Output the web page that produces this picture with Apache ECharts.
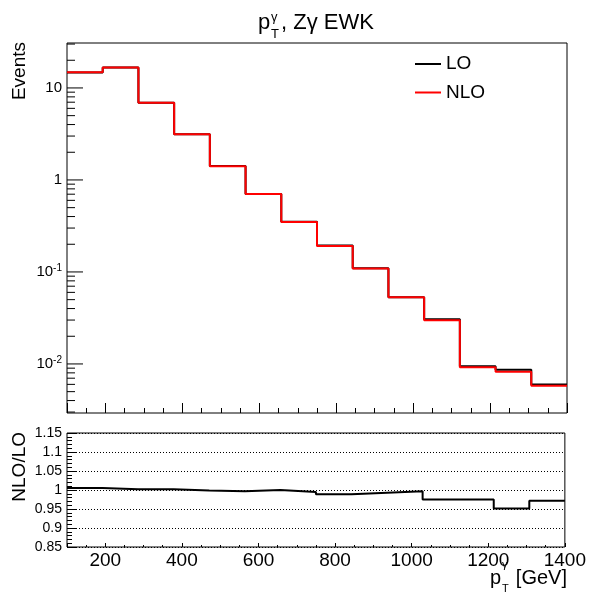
<!DOCTYPE html>
<html><head><meta charset="utf-8">
<script src="https://cdn.jsdelivr.net/npm/echarts@6/dist/echarts.min.js"></script>
<style>html,body{margin:0;padding:0;background:#fff}#c{width:589px;height:596px}</style>
</head><body><div id="c"></div>
<script>
// ---- data ----
const binEdges = [100, 192.86, 285.71, 378.57, 471.43, 564.29, 657.14, 750, 842.86, 935.71, 1028.57, 1121.43, 1214.29, 1307.14, 1400];
const nloValues = [14.8, 16.7, 6.92, 3.13, 1.41, 0.705, 0.350, 0.192, 0.109, 0.0530, 0.0298, 0.00920, 0.00824, 0.00580];
const loValues = [14.73, 16.67, 6.906, 3.133, 1.414, 0.705, 0.3518, 0.1941, 0.1098, 0.0532, 0.03056, 0.00944, 0.00866, 0.00597];
const ratioValues = [1.005, 1.002, 1.002, 0.999, 0.997, 1.000, 0.995, 0.989, 0.993, 0.997, 0.975, 0.975, 0.951, 0.972];
const logTickValues = [0.003,0.004,0.005,0.006,0.007,0.008,0.009,0.01,0.02,0.03,0.04,0.05,0.06,0.07,0.08,0.09,0.1,0.2,0.3,0.4,0.5,0.6,0.7,0.8,0.9,1,2,3,4,5,6,7,8,9,10,20,30];
const logMajorTicks = [0.01, 0.1, 1, 10];
const xRange = [100, 1400];
const yRangeTop = [0.00293, 30.8];
const yRangeRatio = [0.85, 1.15];

const FONT = '"Liberation Sans", Arial, Helvetica, sans-serif';

function stepData(vals) {
  return binEdges.map((e, i) => [e, vals[Math.min(i, vals.length - 1)]]);
}
function isMajor(v) { return logMajorTicks.some(m => Math.abs(v / m - 1) < 1e-6); }

const chart = echarts.init(document.getElementById('c'), null, {renderer: 'canvas'});

const option = {
  animation: false,
  backgroundColor: '#fff',
  textStyle: {fontFamily: FONT},
  grid: [
    {left: 67, top: 43, width: 500, height: 370, show: true, borderColor: '#000', borderWidth: 1, backgroundColor: 'transparent'},
    {left: 67, top: 433, width: 500, height: 114, show: true, borderColor: '#000', borderWidth: 1, backgroundColor: 'transparent'}
  ],
  xAxis: [
    {type: 'value', gridIndex: 0, min: xRange[0], max: xRange[1], splitNumber: 7,
     axisLine: {show: false}, axisLabel: {show: false}, splitLine: {show: false},
     axisTick: {show: true, inside: true, length: 10, lineStyle: {color: '#000', width: 1}},
     minorTick: {show: true, splitNumber: 4, length: 5, lineStyle: {color: '#000', width: 1}}},
    {type: 'value', gridIndex: 1, min: xRange[0], max: xRange[1], splitNumber: 7,
     axisLine: {show: false}, splitLine: {show: false},
     axisLabel: {show: true, showMinLabel: false, color: '#000', fontSize: 19, fontFamily: FONT, margin: 4,
       formatter: function (v) { return String(Math.round(v)); }},
     axisTick: {show: true, inside: true, length: 4, lineStyle: {color: '#000', width: 1}},
     minorTick: {show: true, splitNumber: 4, length: 2, lineStyle: {color: '#000', width: 1}}}
  ],
  yAxis: [
    {type: 'log', logBase: 10, gridIndex: 0, min: yRangeTop[0], max: yRangeTop[1],
     axisLine: {show: false}, axisTick: {show: false}, splitLine: {show: false}, minorTick: {show: false},
     axisLabel: {show: true, showMinLabel: false, showMaxLabel: false, color: '#000', fontSize: 15, fontFamily: FONT, margin: 5,
       formatter: function (v) {
         if (!isMajor(v)) return '';
         const e = Math.round(Math.log10(v));
         if (e === 0) return '1';
         if (e === 1) return '10';
         return '10{s|' + e + '}';
       },
       rich: {s: {fontSize: 10, verticalAlign: 'top', padding: [0, 0, 8, 0], color: '#000', fontFamily: FONT}}}},
    {type: 'value', gridIndex: 1, min: yRangeRatio[0], max: yRangeRatio[1], interval: 0.05,
     axisLine: {show: false},
     axisTick: {show: true, inside: true, length: 10, lineStyle: {color: '#000', width: 1}},
     minorTick: {show: true, splitNumber: 5, length: 5, lineStyle: {color: '#000', width: 1}},
     splitLine: {show: true, lineStyle: {color: '#000', width: 1, type: [1, 2]}},
     axisLabel: {show: true, color: '#000', fontSize: 14, fontFamily: FONT, margin: 5,
       formatter: function (v) { return String(Math.round(v * 100) / 100); }}}
  ],
  legend: {
    data: [{name: 'LO', icon: 'rect'}, {name: 'NLO', icon: 'rect'}],
    orient: 'vertical', left: 415, top: 54, padding: 0,
    itemWidth: 26, itemHeight: 2, itemGap: 8.5,
    textStyle: {fontSize: 19, lineHeight: 20, color: '#000', fontFamily: FONT},
    selectedMode: false
  },
  series: [
    {name: 'LO', type: 'line', xAxisIndex: 0, yAxisIndex: 0, step: 'end', symbol: 'none',
     data: stepData(loValues), lineStyle: {color: '#000', width: 2}, itemStyle: {color: '#000'}, z: 3},
    {name: 'NLO', type: 'line', xAxisIndex: 0, yAxisIndex: 0, step: 'end', symbol: 'none',
     data: stepData(nloValues), lineStyle: {color: '#ff0000', width: 2}, itemStyle: {color: '#ff0000'}, z: 4},
    {name: 'ratio', type: 'line', xAxisIndex: 1, yAxisIndex: 1, step: 'end', symbol: 'none',
     data: stepData(ratioValues), lineStyle: {color: '#000', width: 2}, itemStyle: {color: '#000'}, z: 4},
    {name: 'logticks', type: 'custom', xAxisIndex: 0, yAxisIndex: 0, silent: true, clip: false,
     data: logTickValues.map(v => [xRange[0], v]),
     renderItem: function (params, api) {
       const v = api.value(1);
       const p = api.coord([api.value(0), v]);
       const len = isMajor(v) ? 16 : 8;
       return {type: 'line', shape: {x1: p[0], y1: p[1], x2: p[0] + len, y2: p[1]},
               style: {stroke: '#000', lineWidth: 1}};
     }, z: 5}
  ],
  graphic: [
    // title
    {type: 'text', x: 258, y: 23, style: {text: 'p', font: '22px ' + FONT, fill: '#000', textAlign: 'left', textVerticalAlign: 'middle'}},
    {type: 'text', x: 271, y: 17, style: {text: 'γ', font: '13px ' + FONT, fill: '#000', textAlign: 'left', textVerticalAlign: 'middle'}},
    {type: 'text', x: 271, y: 34, style: {text: 'T', font: '13px ' + FONT, fill: '#000', textAlign: 'left', textVerticalAlign: 'middle'}},
    {type: 'text', x: 281, y: 23, style: {text: ', Zγ EWK', font: '22px ' + FONT, fill: '#000', textAlign: 'left', textVerticalAlign: 'middle'}},
    // y titles
    {type: 'text', x: 20, y: 42, rotation: Math.PI / 2, style: {text: 'Events', font: '19px ' + FONT, fill: '#000', textAlign: 'right', textVerticalAlign: 'middle'}},
    {type: 'text', x: 20, y: 432, rotation: Math.PI / 2, style: {text: 'NLO/LO', font: '19px ' + FONT, fill: '#000', textAlign: 'right', textVerticalAlign: 'middle'}},
    // x title
    {type: 'text', x: 490, y: 578, style: {text: 'p', font: '20px ' + FONT, fill: '#000', textAlign: 'left', textVerticalAlign: 'middle'}},
    {type: 'text', x: 502, y: 565, style: {text: 'γ', font: '11px ' + FONT, fill: '#000', textAlign: 'left', textVerticalAlign: 'middle'}},
    {type: 'text', x: 502, y: 589, style: {text: 'T', font: '11px ' + FONT, fill: '#000', textAlign: 'left', textVerticalAlign: 'middle'}},
    {type: 'text', x: 567, y: 578, style: {text: '[GeV]', font: '20px ' + FONT, fill: '#000', textAlign: 'right', textVerticalAlign: 'middle'}}
  ]
};
chart.setOption(option);
</script>
</body></html>
